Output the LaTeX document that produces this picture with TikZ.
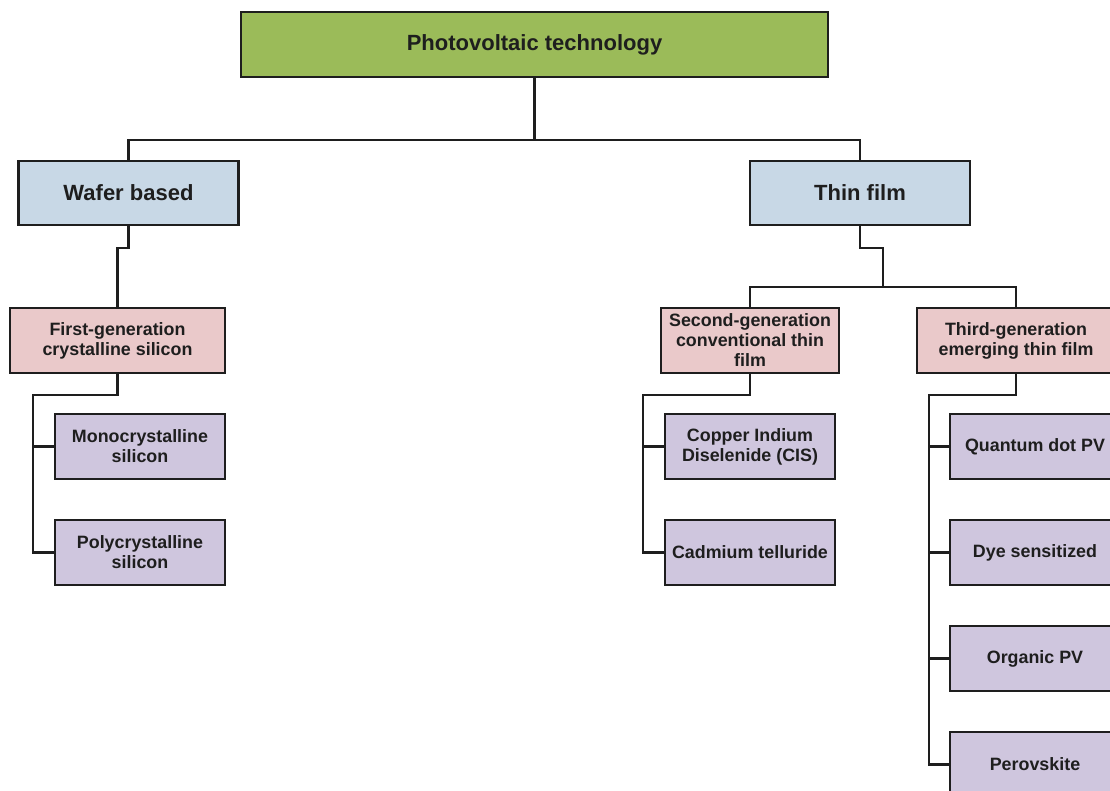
\documentclass[tikz,border=0pt]{standalone}
\usepackage{fontspec}
\setmainfont{Liberation Sans}
\usepackage{xcolor}
\definecolor{leafgreen}{HTML}{9BBB59}
\definecolor{paleblue}{HTML}{C8D8E6}
\definecolor{palerose}{HTML}{EAC9CA}
\definecolor{palelilac}{HTML}{CFC6DE}
\definecolor{inkgray}{HTML}{1E1E1E}
\usepackage{tikz}
\usetikzlibrary{positioning,calc}
\tikzset{
    pv_root/.style={draw=inkgray, fill=leafgreen, text=inkgray, font=\fontsize{16.5}{19}\selectfont\bfseries, line width=1.8pt, align=center, inner sep=2pt, minimum width=440pt, minimum height=48.75pt},
    pv_l1/.style={draw=inkgray, fill=paleblue, text=inkgray, font=\fontsize{16.5}{19}\selectfont\bfseries, line width=1.8pt, align=center, inner sep=2pt, minimum width=165pt, minimum height=48pt},
    pv_l2/.style={draw=inkgray, fill=palerose, text=inkgray, font=\fontsize{13.4}{15}\selectfont\bfseries, line width=1.8pt, align=center, inner sep=2pt, minimum height=48.75pt},
    pv_l3/.style={draw=inkgray, fill=palelilac, text=inkgray, font=\fontsize{13.4}{15}\selectfont\bfseries, line width=1.8pt, align=center, inner sep=2pt, minimum width=127.5pt, minimum height=48.75pt},
    pv_edge/.style={draw=inkgray, line width=1.8pt}
}

\begin{document}
\begin{tikzpicture}[x=0.75pt, y=-0.75pt]
\fill[white] (0,0) rectangle (1110,791);
\useasboundingbox (0,0) rectangle (1110,791);

\node[pv_root] (pv) at (534.5,44.5) {Photovoltaic technology};
\node[pv_l1] (wafer) at (128.5,193) {Wafer based};
\node[pv_l1] (thin) at (860,193) {Thin film};

\node[pv_l2, minimum width=161pt] (first) at (117.5,340.5) {First-generation\\crystalline silicon};
\node[pv_l2, minimum width=133.5pt] (second) at (750,340.5) {Second-generation\\conventional thin\\film};
\node[pv_l2, minimum width=148.5pt] (third) at (1016,340.5) {Third-generation\\emerging thin film};

\node[pv_l3] (mono) at (140,446.5) {Monocrystalline\\silicon};
\node[pv_l3] (poly) at (140,552.5) {Polycrystalline\\silicon};
\node[pv_l3] (cis) at (750,446.5) {Copper Indium\\Diselenide (CIS)};
\node[pv_l3] (cdte) at (750,552.5) {Cadmium telluride};
\node[pv_l3] (qdot) at (1035,446.5) {Quantum dot PV};
\node[pv_l3] (dye) at (1035,552.5) {Dye sensitized};
\node[pv_l3] (opv) at (1035,658.5) {Organic PV};
\node[pv_l3] (perov) at (1035,764.5) {Perovskite};

\coordinate (tf_hub) at (883,287);
\coordinate (fg_bus) at (33,395);
\coordinate (sg_bus) at (643,395);
\coordinate (tg_bus) at (929,395);

\draw[pv_edge] (pv.south) -- ++(0,62) -| (wafer.north);
\draw[pv_edge] (pv.south) -- ++(0,62) -| (thin.north);
\draw[pv_edge] (wafer.south) -- ++(0,22) -| (first.north);
\draw[pv_edge] (thin.south) -- ++(0,22) -| (tf_hub);
\draw[pv_edge] (second.north) |- (tf_hub) -| (third.north);

\draw[pv_edge] (first.south) |- (fg_bus) |- (poly.west);
\draw[pv_edge] (mono.west) -- (mono.west -| fg_bus);
\draw[pv_edge] (second.south) |- (sg_bus) |- (cdte.west);
\draw[pv_edge] (cis.west) -- (cis.west -| sg_bus);
\draw[pv_edge] (third.south) |- (tg_bus) |- (perov.west);
\foreach \leaf in {qdot,dye,opv}
    \draw[pv_edge] (\leaf.west) -- (\leaf.west -| tg_bus);
\end{tikzpicture}
\end{document}
